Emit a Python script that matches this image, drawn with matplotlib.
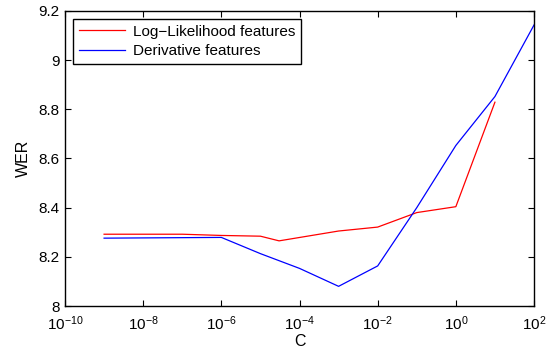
import matplotlib
matplotlib.use("Agg")
import matplotlib.pyplot as plt
from matplotlib.ticker import NullLocator

plt.rcParams["font.family"] = ["Liberation Sans", "DejaVu Sans"]
plt.rcParams["mathtext.fontset"] = "custom"
plt.rcParams["mathtext.rm"] = "Liberation Sans"
plt.rcParams["mathtext.it"] = "Liberation Sans:italic"

# C values and WER
c_loglik = [1e-9, 1e-7, 1e-6, 1e-5, 3e-5, 1e-3, 1e-2, 1e-1, 1, 10]
wer_loglik = [8.292, 8.292, 8.287, 8.284, 8.265, 8.305, 8.321, 8.380, 8.404, 8.829]

c_deriv = [1e-9, 1e-7, 1e-6, 1e-5, 1e-4, 1e-3, 1e-2, 1e-1, 1, 10, 100]
wer_deriv = [8.276, 8.278, 8.279, 8.213, 8.153, 8.080, 8.163, 8.400, 8.653, 8.852, 9.143]

xtick_exps = [-10, -8, -6, -4, -2, 0, 2]
yticks = [8, 8.2, 8.4, 8.6, 8.8, 9, 9.2]
ytick_labels = ["8", "8.2", "8.4", "8.6", "8.8", "9", "9.2"]

fig = plt.figure(figsize=(5.49, 3.49), dpi=100)
ax = fig.add_axes([0.1184, 0.1232, 0.8543, 0.8453])

ax.plot(c_loglik, wer_loglik, color=(1, 0, 0), lw=0.9, label="Log\u2212Likelihood features")
ax.plot(c_deriv, wer_deriv, color=(0, 0, 1), lw=0.9, label="Derivative features")

ax.set_xscale("log")
ax.set_xlim(1e-10, 1e2)
ax.set_ylim(8, 9.2)
ax.set_xticks([10.0 ** e for e in xtick_exps])
ax.set_xticklabels([r"$10^{%d}$" % e for e in xtick_exps])
ax.xaxis.set_minor_locator(NullLocator())
ax.set_yticks(yticks)
ax.set_yticklabels(ytick_labels)

ax.tick_params(axis="both", which="both", direction="in", top=True, right=True,
               length=4, width=0.8, labelsize=11)
ax.tick_params(axis="x", pad=6)
ax.tick_params(axis="y", pad=4)
for s in ax.spines.values():
    s.set_linewidth(1.0)

ax.set_xlabel("C", fontsize=11.5, labelpad=1)
ax.set_ylabel("WER", fontsize=11.5, labelpad=5)

leg = ax.legend(loc="upper left", fontsize=11, frameon=True, fancybox=False,
                edgecolor="black", framealpha=1, borderaxespad=0.5,
                handlelength=3.0, borderpad=0.4, labelspacing=0.35, handletextpad=0.55)
leg.get_frame().set_linewidth(1.0)

fig.savefig("out.png", dpi=100)
